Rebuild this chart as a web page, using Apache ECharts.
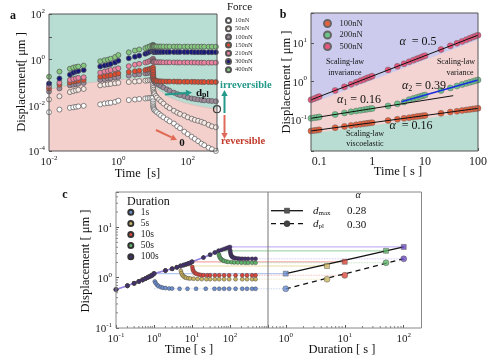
<!DOCTYPE html>
<html><head><meta charset="utf-8">
<script src="https://cdn.jsdelivr.net/npm/echarts@6/dist/echarts.min.js"></script>
<style>html,body{margin:0;padding:0;background:#fff}#c{width:500px;height:362px}</style>
</head><body><div id="c"></div>
<script>
// ================= DATA =================
// Panel a: creep (0.01-10 s) then recovery (>10 s)
const aForces = ['10nN','50nN','100nN','150nN','210nN','300nN','400nN'];
const aCreepT = [0.01,0.02,0.04,0.05,0.06,0.07,0.1,0.3,0.4,0.5,0.6,0.8,1,2,3,4,6,7,8,9,10];
const aRecT = [10.02,10.05,10.1,10.2,10.4,10.7,11,12,13,15,17,20,25,30,40,50,60,80,100,130,160,200,250,300,400,500,650];
const aCreep10 = [0.005,0.0065,0.0078,0.0082,0.0086,0.009,0.0095,0.011,0.012,0.0125,0.013,0.014,0.016,0.017,0.018,0.019,0.02,0.0205,0.021,0.0215,0.022];
const aCreep50 = [0.018,0.025,0.038,0.042,0.045,0.048,0.052,0.075,0.08,0.084,0.087,0.092,0.097,0.105,0.11,0.115,0.12,0.123,0.126,0.128,0.13];
const aCreep100 = [0.04,0.055,0.075,0.08,0.085,0.088,0.095,0.13,0.14,0.15,0.155,0.165,0.175,0.2,0.22,0.23,0.25,0.26,0.27,0.28,0.3];
const aCreep150 = [0.055,0.08,0.1,0.11,0.115,0.12,0.13,0.18,0.19,0.2,0.21,0.23,0.25,0.29,0.31,0.33,0.35,0.37,0.39,0.41,0.45];
const aCreep210 = [0.07,0.1,0.13,0.14,0.15,0.16,0.17,0.27,0.3,0.32,0.35,0.38,0.42,0.52,0.6,0.66,0.75,0.8,0.88,0.95,1.1];
const aCreep300 = [0.09,0.15,0.22,0.27,0.3,0.32,0.35,0.5,0.55,0.6,0.65,0.75,0.9,1.15,1.35,1.5,1.8,2.0,2.2,2.4,2.7];
const aCreep400 = [0.18,0.3,0.4,0.45,0.48,0.5,0.55,0.85,0.95,1.0,1.1,1.3,1.6,2.1,2.5,2.8,3.2,3.5,3.8,4.1,4.5];
const aRec10 = [0.015,0.012,0.01,0.0085,0.0075,0.0068,0.0062,0.0055,0.005,0.0042,0.0036,0.003,0.0024,0.002,0.0016,0.0012,0.001,0.0007,0.00055,0.00042,0.00034,0.00027,0.00021,0.00018,0.00014,0.00012,0.0001];
const aRec50 = [0.09,0.07,0.058,0.048,0.04,0.035,0.031,0.026,0.022,0.018,0.015,0.012,0.009,0.0075,0.0058,0.0048,0.0042,0.0036,0.003,0.0026,0.0023,0.0021,0.0019,0.0017,0.0014,0.0012,0.0011];
const aRec100 = [0.25,0.2,0.17,0.15,0.13,0.115,0.105,0.095,0.088,0.078,0.07,0.06,0.05,0.044,0.036,0.031,0.028,0.025,0.022,0.02,0.019,0.018,0.017,0.0165,0.016,0.0155,0.015];
const aRec150 = [0.35,0.28,0.22,0.18,0.15,0.135,0.125,0.12,0.115,0.113,0.112,0.111,0.11,0.11,0.11,0.109,0.109,0.108,0.108,0.107,0.107,0.106,0.106,0.105,0.105,0.105,0.104];
const aRec210 = [1.0,0.9,0.85,0.82,0.8,0.79,0.78,0.78,0.77,0.77,0.77,0.76,0.76,0.76,0.76,0.75,0.75,0.75,0.75,0.75,0.75,0.74,0.74,0.74,0.74,0.74,0.74];
const aRec300 = [2.5,2.35,2.28,2.24,2.22,2.2,2.2,2.19,2.18,2.18,2.17,2.17,2.16,2.16,2.15,2.15,2.15,2.14,2.14,2.14,2.13,2.13,2.13,2.12,2.12,2.12,2.12];
const aRec400 = [4.2,4.0,3.9,3.85,3.82,3.8,3.8,3.78,3.78,3.77,3.76,3.76,3.75,3.75,3.74,3.74,3.73,3.73,3.72,3.72,3.72,3.71,3.71,3.71,3.7,3.7,3.7];
const aBoundT = [0.01,0.03,0.1,0.3,1,3,10,10.5,11,12,15,20,26,40,63,100,190,350,700];
const aBoundD = [0.05,0.07,0.09,0.11,0.13,0.145,0.15,0.11,0.085,0.065,0.045,0.033,0.025,0.019,0.0145,0.012,0.0095,0.008,0.0068];
const aPlMark = [[700, 0.0068]];

// Panel b
const bTime = [0.07,0.08,0.09,0.1,0.2,0.3,0.4,0.5,0.6,0.7,0.8,0.9,1,2,3,4,5,6,7,8,9,10,20,30,40,50,60,70,80,90,100];
const b100 = [0.050,0.0514,0.0525,0.0535,0.061,0.0658,0.0694,0.0723,0.0748,0.0771,0.0791,0.0807,0.0824,0.0938,0.101,0.107,0.111,0.115,0.119,0.122,0.124,0.127,0.144,0.156,0.164,0.171,0.177,0.182,0.187,0.191,0.195];
const b200 = [0.107,0.110,0.113,0.116,0.135,0.148,0.158,0.166,0.173,0.179,0.184,0.189,0.193,0.225,0.255,0.285,0.328,0.352,0.375,0.395,0.414,0.432,0.568,0.665,0.746,0.815,0.875,0.931,0.982,1.03,1.07];
const b500 = [0.325,0.349,0.372,0.394,0.570,0.708,0.826,0.931,1.03,1.11,1.20,1.27,1.35,1.96,2.43,2.83,3.19,3.52,3.82,4.10,4.37,4.62,6.70,8.32,9.71,10.9,12.0,13.1,14.1,15.0,15.8];
const bFit500 = [[0.07,0.325],[100,15.8]];
const bFit100 = [[0.07,0.05],[100,0.195]];
const bFitA1 = [[0.07,0.107],[34,0.417]];
const bFitA2 = [[3.6,0.29],[100,1.07]];
const bBandTop = [[0.07,0.26],[100,12]];
const bBandBottom = [[0.07,0.043],[100,0.16]];

// Panel c
const cNames = ['1s','5s','10s','50s','100s'];
const cDur = [1,5,10,50,100];
const cDmax = [1.2,1.7,2.06,3.4,4.06];
const cDpl = [0.6,0.93,1.11,1.97,2.36];
const cCreepT = [0.1,0.2,0.3,0.4,0.5,0.6,0.7,0.8,0.9,1,2,3,4,5,6,7,8,9,10,20,30,40,50,60,70,80,90,100];
const cCreepD = [0.58,0.69,0.77,0.84,0.9,0.96,1.02,1.07,1.12,1.2,1.38,1.5,1.6,1.7,1.77,1.84,1.9,1.96,2.06,2.5,2.85,3.15,3.4,3.55,3.7,3.83,3.95,4.06];
const cRecT = [
  [1.05,1.1,1.2,1.3,1.5,1.7,2,2.5,3,4.7,7.6,12.8,23,39,52,70,95,140,210,280,380,470],
  [5.1,5.3,5.6,6,6.5,7,8,9,11,14,18,24,30,40,52,70,95,140,210,280,380,470],
  [10.2,10.5,11,12,13,15,17,20,25,30,40,52,70,95,140,210,280,380,470],
  [51,52,54,57,60,65,70,80,90,110,130,160,200,250,300,380,470],
  [101,102,104,107,110,115,120,130,140,160,180,210,250,300,380,470]
];
const cRecD = [
  [0.84,0.78,0.72,0.68,0.65,0.63,0.62,0.61,0.605,0.6,0.6,0.6,0.6,0.6,0.6,0.6,0.6,0.6,0.6,0.6,0.6,0.6],
  [1.35,1.22,1.12,1.06,1.02,0.99,0.97,0.96,0.95,0.94,0.935,0.93,0.93,0.93,0.93,0.93,0.93,0.93,0.93,0.93,0.93,0.93],
  [1.62,1.45,1.33,1.24,1.19,1.15,1.13,1.12,1.115,1.11,1.11,1.11,1.11,1.11,1.11,1.11,1.11,1.11,1.11],
  [2.9,2.7,2.5,2.38,2.28,2.2,2.14,2.08,2.05,2.02,2.0,1.99,1.98,1.97,1.97,1.97,1.97],
  [3.5,3.2,2.95,2.78,2.67,2.58,2.52,2.46,2.43,2.4,2.38,2.37,2.36,2.36,2.36,2.36]
];
const cFitT = [1,100];
const cFitMax = [1.2,4.06];
const cFitPl = [0.6,2.36];

// ================= STYLE =================
const FF = 'Liberation Serif';
const aColors = ['#ffffff','#f7e9e3','#a08b9c','#e24b2d','#ee82a0','#17187a','#86ca7f'];
const cColors = ['#6d8fd0','#c9b463','#d9483f','#5fb36a','#45306e'];
const cRightColors = ['#6d8fd0','#c9b463','#d9483f','#5fb36a','#6a4bbd'];
const cLineColors = ['#b3c7ee','#e9dca6','#f2aaa5','#a9d9ad','#c5b6f2'];

const chart = echarts.init(document.getElementById('c'));

function supFmt(allowed) {
  return function (v) {
    const e = Math.log10(v), r = Math.round(e);
    if (Math.abs(e - r) > 1e-6) return '';
    if (allowed && allowed.indexOf(r) < 0) return '';
    return '{b|10}{s|' + r + '}';
  };
}
const richSup = {
  b: {fontFamily: FF, fontSize: 11, color: '#222', lineHeight: 12, padding: [3,0,0,0]},
  s: {fontFamily: FF, fontSize: 7, color: '#222', lineHeight: 8, verticalAlign: 'top'}
};
function logAxis(gi, min, max, fmt, extra) {
  return Object.assign({
    type: 'log', logBase: 10, gridIndex: gi, min: min, max: max,
    axisLine: {show: false}, splitLine: {show: false},
    axisTick: {show: true, inside: true, length: 3, lineStyle: {color: '#555'}},
    axisLabel: {formatter: fmt, rich: richSup, margin: 4, fontFamily: FF, fontSize: 11, color: '#222'}
  }, extra || {});
}
function pairs(ts, ds) { return ts.map((t, i) => [t, ds[i]]); }
// minor (2..9 x 10^k) tick positions inside a range
function minorVals(lo, hi) {
  const out = [];
  for (let k = Math.floor(Math.log10(lo)); k <= Math.ceil(Math.log10(hi)); k++)
    for (let m = 2; m <= 9; m++) { const v = m * Math.pow(10, k); if (v > lo * 1.0001 && v < hi * 0.9999) out.push(+v.toPrecision(6)); }
  return out;
}
function minorTickSeries(xi, yi, dir, vals, ref) {
  return {type: 'custom', xAxisIndex: xi, yAxisIndex: yi, silent: true, z: 6, clip: false,
    data: vals.map(v => dir === 'x' ? [v, ref] : [ref, v]),
    renderItem: function (params, api) {
      const cs = params.coordSys;
      const p = api.coord([api.value(0), api.value(1)]);
      const shape = dir === 'x'
        ? {x1: p[0], y1: cs.y + cs.height, x2: p[0], y2: cs.y + cs.height - 2}
        : {x1: cs.x, y1: p[1], x2: cs.x + 2, y2: p[1]};
      return {type: 'line', shape: shape, style: {stroke: '#666', lineWidth: 0.8}};
    }};
}

const aCreeps = [aCreep10,aCreep50,aCreep100,aCreep150,aCreep210,aCreep300,aCreep400];
const aRecs = [aRec10,aRec50,aRec100,aRec150,aRec210,aRec300,aRec400];

const series = [];
// ---- panel a ----
series.push({type: 'line', z: 1, xAxisIndex: 0, yAxisIndex: 0, data: pairs(aBoundT, aBoundD), smooth: 0.3,
  symbol: 'none', lineStyle: {width: 0.6, color: '#d8b5b1'}, areaStyle: {color: '#f3d0cc', opacity: 1, origin: 'start'}, silent: true});
aForces.forEach((f, k) => {
  series.push({type: 'scatter', z: 3, name: f, xAxisIndex: 0, yAxisIndex: 0,
    data: pairs(aCreepT, aCreeps[k]).concat(pairs(aRecT, aRecs[k])),
    symbol: 'circle', symbolSize: 5,
    itemStyle: {color: aColors[k], borderColor: '#555', borderWidth: 0.7, opacity: 1}});
});
series.push({type: 'scatter', z: 4, xAxisIndex: 0, yAxisIndex: 0, data: aPlMark, symbolSize: 7, clip: false,
  itemStyle: {color: 'rgba(0,0,0,0)', borderColor: '#111', borderWidth: 1.2}});

// ---- panel b ----
series.push({type: 'line', z: 1, xAxisIndex: 1, yAxisIndex: 1, data: bBandTop, symbol: 'none',
  lineStyle: {width: 0}, areaStyle: {color: '#f3d4d2', opacity: 1, origin: 'start'}, silent: true});
series.push({type: 'line', z: 1, xAxisIndex: 1, yAxisIndex: 1, data: bBandBottom, symbol: 'none',
  lineStyle: {width: 0}, areaStyle: {color: '#b9ddd2', opacity: 1, origin: 'start'}, silent: true});
[['100nN ', b100, '#e8603c'], ['200nN ', b200, '#6cc48a'], ['500nN ', b500, '#e9557f']].forEach(s => {
  series.push({type: 'scatter', z: 3, name: s[0], xAxisIndex: 1, yAxisIndex: 1, data: pairs(bTime, s[1]),
    symbolSize: 6, itemStyle: {color: s[2], borderColor: '#666', borderWidth: 0.5, opacity: 1}});
});
[[bFit500, '#111'], [bFit100, '#111'], [bFitA1, '#111'], [bFitA2, '#1a2ee0']].forEach(s => {
  series.push({type: 'line', xAxisIndex: 1, yAxisIndex: 1, data: s[0], symbol: 'none',
    lineStyle: {width: s[1] === '#111' ? 1 : 1.6, color: s[1]}, z: 5});
});

// ---- panel c ----
const C_TMAX = 1000, C_RMIN = 0.5;
cNames.forEach((n, i) => {
  series.push({type: 'line', xAxisIndex: 2, yAxisIndex: 2, data: [[cDur[i], cDmax[i]], [C_TMAX, cDmax[i]]],
    symbol: 'none', lineStyle: {width: 1.2, color: cLineColors[i]}, z: 1});
  series.push({type: 'line', xAxisIndex: 2, yAxisIndex: 2, data: [[cDur[i], cDpl[i]], [C_TMAX, cDpl[i]]],
    symbol: 'none', lineStyle: {width: 0.8, color: cLineColors[i], type: 'dotted'}, z: 1});
  series.push({type: 'line', xAxisIndex: 3, yAxisIndex: 3, data: [[C_RMIN, cDmax[i]], [cDur[i], cDmax[i]]],
    symbol: 'none', lineStyle: {width: 1.2, color: cLineColors[i]}, z: 1});
  series.push({type: 'line', xAxisIndex: 3, yAxisIndex: 3, data: [[C_RMIN, cDpl[i]], [cDur[i], cDpl[i]]],
    symbol: 'none', lineStyle: {width: 0.8, color: cLineColors[i], type: 'dotted'}, z: 1});
});
series.push({type: 'line', xAxisIndex: 2, yAxisIndex: 2, data: pairs(cCreepT, cCreepD), symbol: 'none',
  lineStyle: {width: 1.6, color: '#9480e0'}, z: 2});
cNames.forEach((n, i) => {
  const creep = pairs(cCreepT, cCreepD).filter(p => p[0] <= cDur[i]);
  series.push({type: 'scatter', name: n, xAxisIndex: 2, yAxisIndex: 2,
    data: creep.concat(pairs(cRecT[i], cRecD[i])), symbolSize: 4,
    itemStyle: {color: cColors[i], borderColor: '#333', borderWidth: 0.4, opacity: 1}, z: 3});
});
series.push({type: 'line', xAxisIndex: 3, yAxisIndex: 3, data: pairs(cFitT, cFitMax), symbol: 'none',
  lineStyle: {width: 1.3, color: '#111'}, z: 4});
series.push({type: 'line', xAxisIndex: 3, yAxisIndex: 3, data: pairs(cFitT, cFitPl), symbol: 'none',
  lineStyle: {width: 1.3, color: '#111', type: [5, 4]}, z: 4});
cNames.forEach((n, i) => {
  series.push({type: 'scatter', xAxisIndex: 3, yAxisIndex: 3, data: [[cDur[i], cDmax[i]]], symbol: 'rect', symbolSize: 5,
    itemStyle: {color: cRightColors[i], borderColor: '#444', borderWidth: 0.5}, z: 5});
  series.push({type: 'scatter', xAxisIndex: 3, yAxisIndex: 3, data: [[cDur[i], cDpl[i]]], symbol: 'circle', symbolSize: 6,
    itemStyle: {color: cRightColors[i], borderColor: '#444', borderWidth: 0.5}, z: 5});
});
// minor ticks in panel c
series.push(minorTickSeries(2, 2, 'x', minorVals(0.1, 1000), 0.1));
series.push(minorTickSeries(3, 3, 'x', minorVals(0.5, 200), 0.1));
series.push(minorTickSeries(2, 2, 'y', minorVals(0.1, 50), 0.1));

// ---- graphics ----
function arrow(x1, y1, x2, y2, color, w) {
  const ang = Math.atan2(y2 - y1, x2 - x1), L = 6, W = 3.2;
  const bx = x2 - L * Math.cos(ang), by = y2 - L * Math.sin(ang);
  const px = -Math.sin(ang) * W, py = Math.cos(ang) * W;
  return [
    {type: 'line', z: 100, shape: {x1: x1, y1: y1, x2: bx, y2: by}, style: {stroke: color, lineWidth: w}},
    {type: 'polygon', z: 100, shape: {points: [[x2, y2], [bx + px, by + py], [bx - px, by - py]]}, style: {fill: color}}
  ];
}
function txt(x, y, text, size, opts, rot) {
  const el = {type: 'text', z: 100, x: x, y: y, style: Object.assign({text: text, fontFamily: FF, fontSize: size,
    fill: '#111', align: 'center', verticalAlign: 'middle'}, opts || {})};
  if (rot) el.rotation = rot;
  return el;
}
const graphics = [
  {type: 'rect', z: 100, shape: {x: 49, y: 14, width: 168, height: 137}, style: {fill: 'none', stroke: '#555', lineWidth: 1}},
  {type: 'rect', z: 100, shape: {x: 311, y: 13, width: 167, height: 138}, style: {fill: 'none', stroke: '#555', lineWidth: 1}},
  {type: 'rect', z: 100, shape: {x: 116, y: 192, width: 305.5, height: 136}, style: {fill: 'none', stroke: '#888', lineWidth: 1}},
  {type: 'line', z: 100, shape: {x1: 268, y1: 192, x2: 268, y2: 328}, style: {stroke: '#777', lineWidth: 1}},
  // axis titles
  txt(22, 82, 'Displacement[ μm ]', 12.5, null, Math.PI / 2),
  txt(137.5, 173.3, 'Time  [s]', 12.5),
  txt(287, 82, 'Displacement [ μm ]', 12.5, null, Math.PI / 2),
  txt(398, 172, 'Time [ s ]', 12.5),
  txt(86, 261, 'Displacement [ μm ]', 12.5, null, Math.PI / 2),
  txt(189, 350, 'Time [ s ]', 12.5),
  txt(342, 350, 'Duration [ s ]', 12.5),
  // panel labels
  txt(13, 16, 'a', 12, {fontWeight: 'bold'}),
  txt(283, 15, 'b', 12, {fontWeight: 'bold'}),
  txt(65, 195, 'c', 12, {fontWeight: 'bold'}),
  txt(227, 7, 'Force', 11, {align: 'left'}),
  txt(220, 85, 'irreversible', 10.5, {align: 'left', fontWeight: 'bold', fill: '#23998a'}),
  txt(221, 141, 'reversible', 10.5, {align: 'left', fontWeight: 'bold', fill: '#c23a2a'}),
  txt(196, 93, '{d|d}{s|pl}', 10, {align: 'left', rich: {d: {fontFamily: FF, fontSize: 11, fontWeight: 'bold', fill: '#111'}, s: {fontFamily: FF, fontSize: 8, fontWeight: 'bold', fill: '#111', verticalAlign: 'bottom', padding: [4,0,0,0]}}}),
  txt(182, 143, '0', 11, {fontWeight: 'bold'}),
  // panel b texts
  txt(418, 42, '{a|α} {t| = 0.5}', 12, {rich: {a: {fontFamily: FF, fontSize: 12, fontStyle: 'italic'}, t: {fontFamily: FF, fontSize: 12}}}),
  txt(345, 62, 'Scaling-law', 8), txt(345, 73, 'invariance', 8),
  txt(456, 62, 'Scaling-law', 8), txt(460, 73, 'variance', 8),
  txt(424, 86, '{a|α}{s|2}{t| = 0.39}', 12, {rich: {a: {fontFamily: FF, fontSize: 12, fontStyle: 'italic'}, s: {fontFamily: FF, fontSize: 8, verticalAlign: 'bottom', padding: [5,0,0,0]}, t: {fontFamily: FF, fontSize: 12}}}),
  txt(359, 100, '{a|α}{s|1}{t| = 0.16}', 12, {rich: {a: {fontFamily: FF, fontSize: 12, fontStyle: 'italic'}, s: {fontFamily: FF, fontSize: 8, verticalAlign: 'bottom', padding: [5,0,0,0]}, t: {fontFamily: FF, fontSize: 12}}}),
  txt(411, 126, '{a|α} {t| = 0.16}', 12, {rich: {a: {fontFamily: FF, fontSize: 12, fontStyle: 'italic'}, t: {fontFamily: FF, fontSize: 12}}}),
  txt(365, 134, 'Scaling-law', 8), txt(365, 144, 'viscoelastic', 8),
  // panel c texts
  txt(127, 201.5, 'Duration', 12, {align: 'left'}),
  txt(358, 195, 'α', 10, {fontStyle: 'italic'}),
  {type: 'line', z: 100, shape: {x1: 271, y1: 210.7, x2: 303, y2: 210.7}, style: {stroke: '#111', lineWidth: 1.3}},
  {type: 'rect', z: 101, shape: {x: 284.5, y: 208.2, width: 5, height: 5}, style: {fill: '#555', stroke: '#333', lineWidth: 0.5}},
  {type: 'line', z: 100, shape: {x1: 271, y1: 223.7, x2: 303, y2: 223.7}, style: {stroke: '#111', lineWidth: 1.3, lineDash: [5, 4]}},
  {type: 'circle', z: 101, shape: {cx: 287, cy: 223.7, r: 3}, style: {fill: '#444', stroke: '#222', lineWidth: 0.5}},
  txt(313, 211, '{d|d}{s|max}', 11, {align: 'left', rich: {d: {fontFamily: FF, fontSize: 11, fontStyle: 'italic'}, s: {fontFamily: FF, fontSize: 7, verticalAlign: 'bottom', padding: [5,0,0,0]}}}),
  txt(313, 224, '{d|d}{s|pl}', 11, {align: 'left', rich: {d: {fontFamily: FF, fontSize: 11, fontStyle: 'italic'}, s: {fontFamily: FF, fontSize: 7, verticalAlign: 'bottom', padding: [5,0,0,0]}}}),
  txt(356.5, 211, '0.28', 11), txt(356.5, 225, '0.30', 11)
].concat(
  arrow(224.5, 113, 224.5, 90, '#23998a', 2),
  arrow(224.5, 115, 224.5, 139, '#e06a5a', 2),
  arrow(165, 94.5, 192, 92.5, '#23998a', 2),
  arrow(156, 130, 177, 140, '#e06a55', 2)
);

const plainDec = function (v) { const e = Math.log10(v); return Math.abs(e - Math.round(e)) > 1e-6 ? '' : String(v); };
const option = {
  animation: false,
  backgroundColor: '#fff',
  textStyle: {fontFamily: FF},
  grid: [
    {left: 49, top: 14, width: 168, height: 137, show: true, backgroundColor: '#b8ddd3', borderWidth: 0, z: 0},
    {left: 311, top: 13, width: 167, height: 138, show: true, backgroundColor: '#cccbed', borderWidth: 0, z: 0},
    {left: 116, top: 192, width: 152, height: 136, show: false},
    {left: 268, top: 192, width: 153.5, height: 136, show: false}
  ],
  xAxis: [
    logAxis(0, 0.01, 700, supFmt([-2, 0, 2])),
    logAxis(1, 0.07, 100, plainDec, {axisLabel: {formatter: plainDec, margin: 5, fontFamily: FF, fontSize: 12, color: '#222'}}),
    logAxis(2, 0.1, 1000, supFmt([-1, 0, 1, 2])),
    logAxis(3, 0.5, 200, supFmt([0, 1, 2]))
  ],
  yAxis: [
    logAxis(0, 1e-4, 100, supFmt([-4, -2, 0, 2])),
    logAxis(1, 0.015, 60, supFmt([-1, 0, 1])),
    logAxis(2, 0.1, 50, supFmt([-1, 0, 1])),
    logAxis(3, 0.1, 50, () => '', {axisTick: {show: false}})
  ],
  legend: [
    {left: 225, top: 17, padding: 0, orient: 'vertical', itemWidth: 7, itemHeight: 5, itemGap: 1.2, icon: 'circle', selectedMode: false,
      textStyle: {fontFamily: FF, fontSize: 6.5, color: '#333', padding: [0, 0, 0, -2]}, data: aForces},
    {left: 323, top: 19, padding: 0, orient: 'vertical', itemWidth: 14, itemHeight: 7, itemGap: 2.5, icon: 'circle', selectedMode: false,
      textStyle: {fontFamily: FF, fontSize: 8.5, color: '#222'}, data: ['100nN ', '200nN ', '500nN ']},
    {left: 127.3, top: 207.3, padding: 0, orient: 'vertical', itemWidth: 10, itemHeight: 5, itemGap: 1.1, icon: 'circle', selectedMode: false,
      textStyle: {fontFamily: FF, fontSize: 9.5, color: '#222'}, data: cNames}
  ],
  series: series,
  graphic: {elements: graphics}
};
chart.setOption(option);
</script></body></html>
